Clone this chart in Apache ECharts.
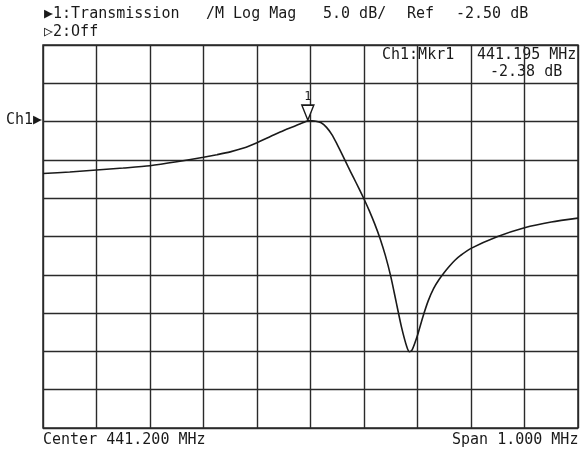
<!DOCTYPE html>
<html>
<head>
<meta charset="utf-8">
<script src="https://cdn.jsdelivr.net/npm/echarts@6/dist/echarts.min.js"></script>
<style>
  html, body { margin: 0; padding: 0; background: #fff; }
  #chart { width: 583px; height: 450px; }
</style>
</head>
<body>
<div id="chart"></div>
<script>
// Frequencies (MHz) and transmission magnitude (dB)
const freqMHz = [
  440.700, 440.750, 440.800, 440.850, 440.900, 440.950, 441.000, 441.025,
  441.050, 441.075, 441.100, 441.125, 441.150, 441.170, 441.180, 441.190,
  441.195, 441.200, 441.210, 441.220, 441.230, 441.240, 441.250, 441.260,
  441.270, 441.280, 441.290, 441.300, 441.310, 441.320, 441.330, 441.340,
  441.350, 441.360, 441.370, 441.380, 441.385, 441.390, 441.400, 441.410,
  441.420, 441.430, 441.440, 441.450, 441.460, 441.470, 441.480, 441.500,
  441.550, 441.600, 441.650, 441.700
];
const magDB = [
  -9.28, -9.08, -8.82, -8.56, -8.26, -7.75, -7.15, -6.82,
  -6.45, -5.95, -5.25, -4.45, -3.65, -3.10, -2.82, -2.52,
  -2.38, -2.40, -2.45, -2.65, -3.25, -4.20, -5.50, -6.90,
  -8.35, -9.75, -11.15, -12.60, -14.15, -15.85, -17.75, -20.00,
  -22.70, -26.00, -29.30, -31.90, -32.55, -32.30, -30.40, -28.00,
  -25.90, -24.30, -23.15, -22.20, -21.35, -20.60, -20.00, -19.05,
  -17.50, -16.35, -15.60, -15.10
];
// Marker 1
const markerFreq = 441.195;
const markerDB = -2.38;
// Display settings (from the instrument header)
const centerMHz = 441.200;
const spanMHz = 1.000;
const refDB = -2.50;
const scaleDBperDiv = 5.0;
const refDivFromTop = 2;
const divisions = [0, 10];

const xMin = centerMHz - spanMHz / 2;
const xMax = centerMHz + spanMHz / 2;
const yMax = refDB + refDivFromTop * scaleDBperDiv;
const yMin = yMax - 10 * scaleDBperDiv;

const FONT = '"DejaVu Sans Mono", "Liberation Mono", monospace';
const TXT = '#1a1a1a';
const GRIDC = '#2a2a2a';

function txt(x, y, s, opts) {
  return Object.assign({
    type: 'text', left: x, top: y,
    style: { text: s, font: '15px ' + FONT, fill: TXT }
  }, opts || {});
}

const chart = echarts.init(document.getElementById('chart'), null, { renderer: 'canvas' });
chart.setOption({
  backgroundColor: '#ffffff',
  animation: false,
  grid: { left: 43, top: 45, width: 535, height: 383, show: true, borderColor: GRIDC, borderWidth: 1.5, backgroundColor: 'transparent' },
  xAxis: [
    { type: 'value', min: xMin, max: xMax, show: false },
    { type: 'value', min: divisions[0], max: divisions[1], interval: 1, position: 'top',
      axisLine: { show: false }, axisTick: { show: false }, axisLabel: { show: false },
      splitLine: { show: true, lineStyle: { color: GRIDC, width: 1.4 } } }
  ],
  yAxis: [
    { type: 'value', min: yMin, max: yMax, show: false },
    { type: 'value', min: divisions[0], max: divisions[1], interval: 1, position: 'right',
      axisLine: { show: false }, axisTick: { show: false }, axisLabel: { show: false },
      splitLine: { show: true, lineStyle: { color: GRIDC, width: 1.4 } } }
  ],
  series: [{
    type: 'line',
    xAxisIndex: 0, yAxisIndex: 0,
    data: freqMHz.map((f, i) => [f, magDB[i]]),
    showSymbol: false,
    smooth: 0.25,
    lineStyle: { color: '#1a1a1a', width: 1.6 },
    markPoint: {
      symbol: 'triangle',
      symbolRotate: 180,
      symbolSize: [12, 15],
      symbolOffset: [0, -8],
      itemStyle: { color: '#ffffff', borderColor: '#1a1a1a', borderWidth: 1.5 },
      label: { show: true, position: 'top', distance: 1, formatter: '1', color: TXT, fontFamily: FONT, fontSize: 12 },
      data: [{ coord: [markerFreq, markerDB] }]
    }
  }],
  graphic: [
    txt(44, 7, '\u25B61:Transmission'),
    txt(206, 7, '/M Log Mag'),
    txt(323, 7, '5.0 dB/'),
    txt(407, 7, 'Ref'),
    txt(456, 7, '-2.50 dB'),
    txt(44, 25, '\u25B72:Off'),
    txt(382, 48, 'Ch1:Mkr1'),
    txt(477, 48, '441.195 MHz'),
    txt(490, 65, '-2.38 dB'),
    txt(6, 113, 'Ch1\u25B6'),
    txt(43, 433, 'Center 441.200 MHz'),
    txt(452, 433, 'Span 1.000 MHz')
  ]
});
</script>
</body>
</html>
